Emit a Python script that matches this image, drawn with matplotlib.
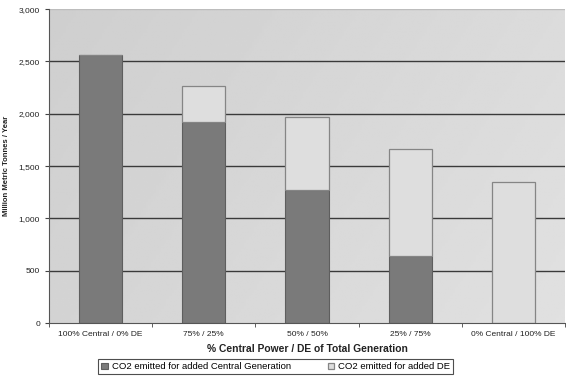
import numpy as np
from matplotlib import pyplot as plt
from matplotlib.ticker import FuncFormatter

plt.rcParams['font.family'] = 'Liberation Sans'

scenarios = ['100% Central / 0% DE', '75% / 25%', '50% / 50%', '25% / 75%', '0% Central / 100% DE']
central_co2 = [2560, 1920, 1270, 640, 0]
de_co2 = [0, 345, 700, 1020, 1350]

fig = plt.figure(figsize=(5.66, 3.8), dpi=100)
ax = fig.add_axes([0.0866, 0.15, 0.9116, 0.826])

x = np.arange(len(scenarios))
ax.set_xlim(-0.5, len(scenarios) - 0.5)
ax.set_ylim(0, 3000)

# soft grey gradient behind the bars, a touch darker on the left and top
gx = np.linspace(0, 1, 200)
gy = np.linspace(0, 1, 100)
gxx, gyy = np.meshgrid(gx, gy)
shade = 0.83 + 0.05 * gxx - 0.02 * gyy
ax.imshow(shade, cmap='gray', vmin=0, vmax=1, aspect='auto',
          extent=(-0.5, len(scenarios) - 0.5, 0, 3000), origin='lower', zorder=0)

for yv in range(500, 3000, 500):
    ax.axhline(yv, color='#3a3a3a', lw=1.0, zorder=1)
ax.axhline(3000, color='#bdbdbd', lw=1.0, zorder=1)

ax.bar(x, central_co2, width=0.42, color='#7a7a7a', edgecolor='#5e5e5e', lw=0.8,
       zorder=2, label='CO2 emitted for added Central Generation')
ax.bar(x, de_co2, width=0.42, bottom=central_co2, color='#dedede', edgecolor='#858585',
       lw=0.9, zorder=2, label='CO2 emitted for added DE')

ax.set_xticks(x)
ax.set_xticklabels(scenarios, fontsize=6, color='#222222')
ax.set_xticks(np.arange(-0.5, len(scenarios)), minor=True)
ax.tick_params(axis='x', which='major', length=0, pad=6)
ax.tick_params(axis='x', which='minor', length=3, color='#444444')
ax.set_yticks(range(0, 3001, 500))
ax.yaxis.set_major_formatter(FuncFormatter(lambda v, p: f'{int(v):,}'))
ax.tick_params(axis='y', labelsize=6, length=3, color='#444444', labelcolor='#222222')

for side in ['top', 'right']:
    ax.spines[side].set_visible(False)
ax.spines['left'].set_color('#555555')
ax.spines['bottom'].set_color('#555555')

ax.set_xlabel('% Central Power / DE of Total Generation', fontsize=7.4, fontweight='bold',
              labelpad=4, color='#222222')
ax.set_ylabel('Million Metric Tonnes / Year', fontsize=5.5, fontweight='bold',
              labelpad=6, color='#222222')

leg = fig.legend(loc='lower center', bbox_to_anchor=(0.487, 0.003), ncol=2, fontsize=6.8,
                 frameon=True, fancybox=False, borderpad=0.3, handlelength=0.7,
                 handleheight=0.7, handletextpad=0.4, columnspacing=3.9)
leg.get_frame().set_edgecolor('#222222')
leg.get_frame().set_linewidth(0.8)

fig.savefig('out.png', dpi=100)
